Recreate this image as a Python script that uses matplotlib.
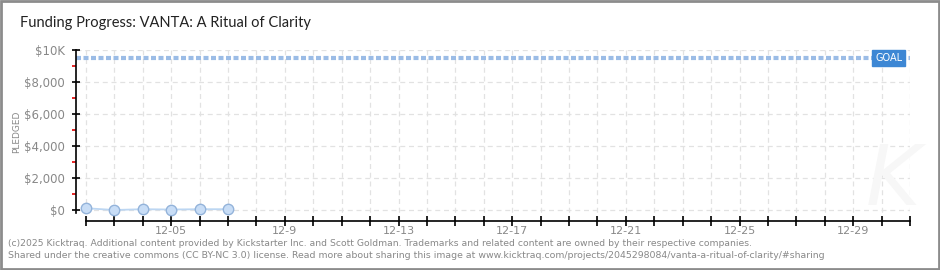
import matplotlib
matplotlib.use("Agg")
import matplotlib.pyplot as plt
from matplotlib.patches import Rectangle
import numpy as np

# funding data
days = ["12-02", "12-03", "12-04", "12-05", "12-06", "12-07"]
pledged = [110, 0, 50, 30, 50, 50]
goal = 9500

# x axis runs 12-02 .. 12-31, one tick per day
n_days = 30
tick_labels = {3: "12-05", 7: "12-9", 11: "12-13", 15: "12-17",
               19: "12-21", 23: "12-25", 27: "12-29"}
y_major = [0, 2000, 4000, 6000, 8000, 10000]
y_labels = ["$0", "$2,000", "$4,000", "$6,000", "$8,000", "$10K"]
y_minor = [1000, 3000, 5000, 7000, 9000]

W, H = 940, 270
fig = plt.figure(figsize=(W / 100, H / 100), dpi=100)
fig.patch.set_facecolor("white")

# plot area in pixels: left=76, right=910, top=50, bottom=221
L, R, T, B = 76, 910, 50, 221
ax = fig.add_axes([L / W, 1 - B / H, (R - L) / W, (B - T) / H])
px_day = (R - 86) / (n_days - 1)
ax.set_xlim(-(86 - L) / px_day, n_days - 1)
px_val = (210 - T) / 10000
ax.set_ylim(-(B - 210) / px_val, 10000)

gray = "#888888"
grid_c = "#e2e2e2"

for i in range(n_days):
    ax.axvline(i, color=grid_c, lw=0.9, ls=(0, (4, 3)), zorder=0)
for v in y_major:
    ax.axhline(v, color=grid_c, lw=0.9, ls=(0, (4, 3)), zorder=0)

# goal line
ax.axhline(goal, color="#9bbce6", lw=3, ls=(0, (1.2, 0.6)), zorder=2)

x = np.arange(len(pledged))
ax.plot(x, pledged, color="#bcd6f2", lw=1.3, zorder=3)
ax.plot(x, pledged, ls="none", marker="o", ms=7.5,
        mfc="#c8ddf6", mec="#93b3da", mew=1, zorder=4)

for s in ["top", "right"]:
    ax.spines[s].set_visible(False)
ax.spines["left"].set_bounds(-180, 10000)
ax.spines["bottom"].set_bounds(0, n_days - 1)
ax.spines["left"].set_linewidth(1.2)
ax.spines["bottom"].set_linewidth(1.2)

ax.set_xticks(range(n_days))
ax.set_xticklabels([tick_labels.get(i, "") for i in range(n_days)])
ax.tick_params(axis="x", direction="inout", length=7, width=1.2,
               labelsize=8, labelcolor=gray, pad=0)
ax.set_yticks(y_major)
ax.set_yticklabels(y_labels)
ax.set_yticks(y_minor, minor=True)
ax.tick_params(axis="y", which="major", direction="inout", length=6,
               width=1.2, labelsize=8.5, labelcolor=gray, pad=5)
ax.tick_params(axis="y", which="minor", direction="out", length=3,
               width=1.2, color="#e00000")

ax.set_ylabel("PLEDGED", fontsize=6.5, color=gray)
ax.yaxis.set_label_coords(-0.066, 0.52)

# goal badge
ax.text(28.25, goal, "GOAL", ha="center", va="center", fontsize=7,
        color="white", zorder=6,
        bbox=dict(boxstyle="square,pad=0.3", fc="#3d87d4", ec="#3d87d4"))

# faint watermark
ax.text(28.4, 1800, "K", fontsize=60, color="#f7f7f7", ha="center",
        va="center", style="italic", zorder=0.5)

fig.text(20 / W, 1 - 23 / H, "Funding Progress: VANTA: A Ritual of Clarity",
         fontsize=10.5, color="#222222", va="center", family="Lato")
fig.text(8 / W, 1 - 243 / H,
         "(c)2025 Kicktraq. Additional content provided by Kickstarter Inc. "
         "and Scott Goldman. Trademarks and related content are owned by "
         "their respective companies.",
         fontsize=6.7, color=gray, va="center")
fig.text(8 / W, 1 - 256 / H,
         "Shared under the creative commons (CC BY-NC 3.0) license. Read "
         "more about sharing this image at "
         "www.kicktraq.com/projects/2045298084/vanta-a-ritual-of-clarity/#sharing",
         fontsize=6.75, color=gray, va="center")

# outer frame
fig.patches.append(Rectangle((0.001, 0.002), 0.998, 0.996, fill=False,
                             ec="#8c8c8c", lw=2, transform=fig.transFigure))

fig.savefig("out.png", dpi=100)
